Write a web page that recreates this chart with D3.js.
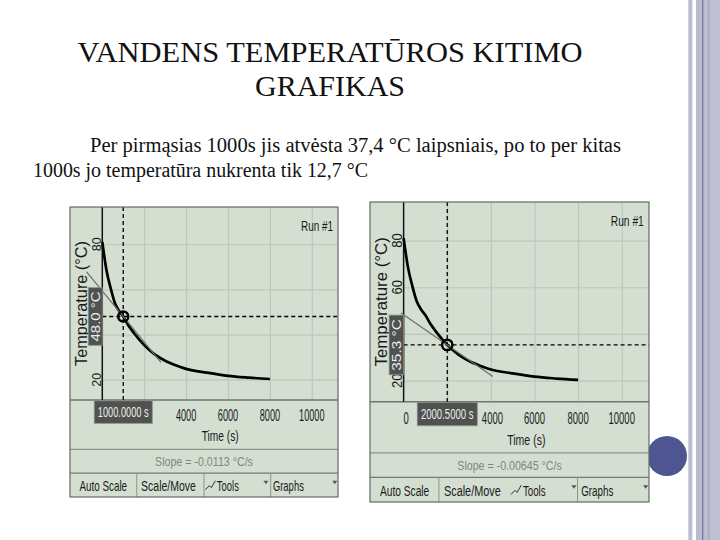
<!DOCTYPE html>
<html><head><meta charset="utf-8">
<script src="https://cdn.jsdelivr.net/npm/d3@7"></script>
<style>body{margin:0;background:#fff}svg{display:block}</style>
</head><body><svg id="c" width="720" height="540"></svg>
<script>
// ---- data ----
const timeS = [0, 200, 400, 600, 800, 1000, 1250, 1500, 2000, 2500, 3000, 3500, 4000, 5000, 6000, 7000, 8000];
const tempC = [81, 68.5, 60.5, 54, 50.5, 48.0, 44.0, 40.8, 35.3, 31.2, 28.4, 26.4, 24.8, 23.1, 21.7, 20.9, 20.3];
const xTicks = [0, 2000, 4000, 6000, 8000, 10000];
const xTickLabels = ["0", "2000", "4000", "6000", "8000", "10000"];
const yTicks = [20, 40, 60, 80];
const yTickLabels = ["20", "40", "60", "80"];
const cursorTimes = [1000, 2000.5];
const cursorTemps = [48.0, 35.3];
const slopes = [-0.0113, -0.00645];
const tangentSpans = [[1750, 1800], [2120, 2090]];
const timeLabels = ["1000.0000 s", "2000.5000 s"];
const tempLabels = ["48.0 °C", "35.3 °C"];
const slopeLabels = ["Slope = -0.0113 °C/s", "Slope = -0.00645 °C/s"];
const titleLines = ["VANDENS TEMPERATŪROS KITIMO", "GRAFIKAS"];
const textLines = ["Per pirmąsias 1000s jis atvėsta 37,4 °C laipsniais, po to per kitas", "1000s jo temperatūra nukrenta tik 12,7 °C"];

// ---- layout ----
const panelBoxes = [{x:70, y:207, w:268, h:290, div:[0.249,0.5,0.749]}, {x:370, y:202, w:279, h:300, div:[0.247,0.744]}];
const UI = "'Liberation Sans', Arial, sans-serif";
const SERIF = "'Liberation Serif', 'Times New Roman', serif";
const svg = d3.select("#c");
svg.append("rect").attr("width",720).attr("height",540).attr("fill","#fff");

// right decoration
[[688.3,4,"#bcbcd0"],[696,6.3,"#bcbcd0"],[702.3,1.3,"#4a5088"],[703.6,3.1,"#bcbcd0"],[706.7,3.3,"#aeb0c6"],[710,10,"#bfbfd3"]]
  .forEach(s => svg.append("rect").attr("x",s[0]).attr("y",0).attr("width",s[1]).attr("height",540).attr("fill",s[2]));
svg.append("circle").attr("cx",667).attr("cy",456).attr("r",20).attr("fill","#4f5590");

// title and text
svg.append("text").attr("x",330).attr("y",62).attr("text-anchor","middle").attr("font-family",SERIF).attr("font-size",30)
  .attr("fill","#111").attr("textLength",505).attr("lengthAdjust","spacingAndGlyphs").text(titleLines[0]);
svg.append("text").attr("x",330).attr("y",96).attr("text-anchor","middle").attr("font-family",SERIF).attr("font-size",30)
  .attr("fill","#111").text(titleLines[1]);
svg.append("text").attr("x",90).attr("y",152).attr("font-family",SERIF).attr("font-size",20).attr("fill","#111")
  .attr("textLength",531).attr("lengthAdjust","spacingAndGlyphs").text(textLines[0]);
svg.append("text").attr("x",33).attr("y",177).attr("font-family",SERIF).attr("font-size",20).attr("fill","#111")
  .attr("textLength",335).attr("lengthAdjust","spacingAndGlyphs").text(textLines[1]);

// text squeezed to a target length with a horizontal scale (so its box is the drawn size)
function txt(g, s, x, y, size, len, opts={}) {
  const t = g.append("text").attr("x",0).attr("y",0).attr("font-family",UI).attr("font-size",size)
    .attr("fill",opts.fill||"#1a1a1a").attr("text-anchor",opts.anchor||"start").text(s);
  if (opts.rot) t.attr("dominant-baseline","central");
  const nat = t.node().getComputedTextLength();
  const sx = len && nat ? len/nat : 1;
  t.attr("transform",`translate(${x},${y})${opts.rot?" rotate(-90)":""} scale(${sx},1)`);
  return t;
}

panelBoxes.forEach((p, i) => {
  const k = p.h / 290, w = p.w, h = p.h;
  const g = svg.append("g").attr("transform",`translate(${p.x},${p.y})`);
  const axX = 0.1205 * w, pb = 0.6655 * h, sep = 0.836 * h, tb = 0.918 * h;
  g.append("rect").attr("width",w).attr("height",h).attr("fill","#d4dfd2");
  const x = d3.scaleLinear().domain([0, 11250]).range([axX, w]);
  const y = d3.scaleLinear().domain([11, 96.5]).range([pb, 0]);
  const ct = cursorTimes[i], cT = cursorTemps[i];
  const xBox = [x(ct)-29*k, x(ct)+29*k], yBox = [y(cT)-28.8*k, y(cT)+28.8*k];

  // grid
  g.append("g").attr("transform",`translate(0,${pb})`)
    .call(d3.axisBottom(x).tickValues(xTicks.slice(1)).tickSize(-pb).tickFormat(""))
    .call(a=>{a.select(".domain").remove(); a.selectAll("line").attr("stroke","#bcc8ba").attr("stroke-width",1.2);});
  g.append("g").attr("transform",`translate(${axX},0)`)
    .call(d3.axisLeft(y).tickValues(yTicks).tickSize(-(w-axX)).tickFormat(""))
    .call(a=>{a.select(".domain").remove(); a.selectAll("line").attr("stroke","#bcc8ba").attr("stroke-width",1.2);});

  // axes lines
  g.append("line").attr("x1",0).attr("x2",w).attr("y1",pb).attr("y2",pb).attr("stroke","#6d786e").attr("stroke-width",1.5);
  g.append("line").attr("x1",axX).attr("x2",axX).attr("y1",0).attr("y2",pb).attr("stroke","#111").attr("stroke-width",1.5);

  // tick labels (those hidden under the cursor read-out boxes are not drawn)
  xTicks.forEach((v,j) => {
    const s = xTickLabels[j], cx = x(v) + (v===0?2.5*k:0);
    if (cx > xBox[0] - 2 && cx < xBox[1] + 2) return;
    const shift = (cx > xBox[1] && cx - xBox[1] < 16) ? 1.5*k : 0;
    txt(g, s, cx + shift, pb + 21.5*k, 16*k, s.length*5.1*k, {anchor:"middle"});
  });
  yTicks.forEach((v,j) => {
    if (y(v) > yBox[0] - 2 && y(v) < yBox[1] + 2) return;
    txt(g, yTickLabels[j], axX - 6.3*k, y(v), 13.5*k, 14*k, {anchor:"middle", rot:true});
  });
  txt(g, "Temperature (°C)", axX - 21.5*k, pb/2, 16*k, 125*k, {anchor:"middle", rot:true});
  txt(g, "Time (s)", (axX + w)/2, pb + 41.5*k, 14*k, 37*k, {anchor:"middle"});
  txt(g, "Run #1", w - 5*k, 23.5*k, 14*k, 32*k, {anchor:"end"});

  // curve
  const line = d3.line().x((d,j)=>x(timeS[j])).y((d,j)=>y(tempC[j])).curve(d3.curveMonotoneX);
  g.append("path").datum(tempC).attr("d",line).attr("fill","none").attr("stroke","#000").attr("stroke-width",2.7).attr("stroke-linejoin","round");

  // crosshair
  g.append("line").attr("x1",x(ct)).attr("x2",x(ct)).attr("y1",0).attr("y2",pb).attr("stroke","#000").attr("stroke-width",1.3).attr("stroke-dasharray","4,3");
  g.append("line").attr("x1",axX).attr("x2",w).attr("y1",y(cT)).attr("y2",y(cT)).attr("stroke","#000").attr("stroke-width",1.3).attr("stroke-dasharray","4,3");

  // tangent
  const t1 = ct - tangentSpans[i][0], t2 = ct + tangentSpans[i][1];
  g.append("line").attr("x1",x(t1)).attr("y1",y(cT + slopes[i]*(t1-ct))).attr("x2",x(t2)).attr("y2",y(cT + slopes[i]*(t2-ct)))
    .attr("stroke","#6b6e6b").attr("stroke-width",1.2);
  g.append("circle").attr("cx",x(ct)).attr("cy",y(cT)).attr("r",5*k).attr("fill","none").attr("stroke","#000").attr("stroke-width",2.5);

  // cursor boxes
  g.append("rect").attr("x",xBox[0]).attr("y",pb+0.8*k).attr("width",58*k).attr("height",22.5*k)
    .attr("fill","#4f524f").attr("stroke","#8a908a").attr("stroke-width",0.8);
  txt(g, timeLabels[i], x(ct), pb + 17*k, 14*k, 51*k, {anchor:"middle", fill:"#ececec"});
  g.append("rect").attr("x",axX-14*k).attr("y",yBox[0]).attr("width",14*k).attr("height",57.6*k)
    .attr("fill","#4f524f").attr("stroke","#8a908a").attr("stroke-width",0.8);
  txt(g, tempLabels[i], axX - 7*k, y(cT), 13*k, 50*k, {anchor:"middle", rot:true, fill:"#ececec"});

  // slope bar
  g.append("line").attr("x1",0).attr("x2",w).attr("y1",sep).attr("y2",sep).attr("stroke","#8c978b").attr("stroke-width",1.2);
  txt(g, slopeLabels[i], w/2, (sep+tb)/2 + 4.5*k, 13*k, (i===0?98:101)*k, {anchor:"middle", fill:"#7d887c"});

  // toolbar
  g.append("line").attr("x1",0).attr("x2",w).attr("y1",tb).attr("y2",tb).attr("stroke","#6f7a70").attr("stroke-width",1.2);
  p.div.forEach(f => g.append("line").attr("x1",f*w).attr("x2",f*w).attr("y1",tb).attr("y2",h).attr("stroke","#8c978b").attr("stroke-width",1));
  const by = tb + 17.5*k;
  txt(g, "Auto Scale", 0.124*w, by, 14*k, 47.7*k, {anchor:"middle"});
  txt(g, "Scale/Move", 0.265*w, by, 14*k, 55*k);
  const ix = 0.505*w;
  g.append("path").attr("d",`M${ix},${by-1} L${ix+4*k},${by-5*k} L${ix+6*k},${by-3*k} L${ix+10*k},${by-10*k}`)
    .attr("fill","none").attr("stroke","#333").attr("stroke-width",1);
  txt(g, "Tools", 0.548*w, by, 14*k, 22*k);
  [0.731*w, 0.988*w].forEach(tx => g.append("path")
    .attr("d",`M${tx-2.5*k},${by-10*k} L${tx+2.5*k},${by-10*k} L${tx},${by-6.5*k}Z`).attr("fill","#555"));
  txt(g, "Graphs", 0.757*w, by, 14*k, 31*k);

  g.append("rect").attr("width",w).attr("height",h).attr("fill","none").attr("stroke","#5f6b63").attr("stroke-width",1.2);
});
</script></body></html>
